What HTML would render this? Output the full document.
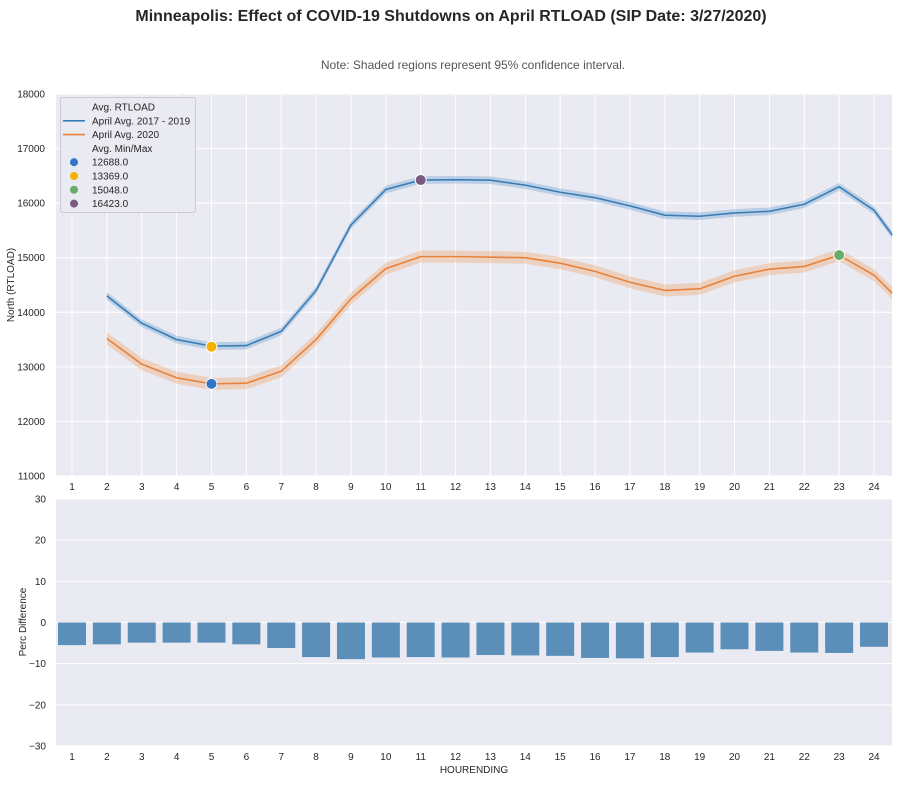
<!DOCTYPE html>
<html><head><meta charset="utf-8"><style>
body{margin:0;background:#fff;font-family:"Liberation Sans",sans-serif}
svg text{font-family:"Liberation Sans",sans-serif}
</style></head><body>
<svg id="s" width="902" height="782" xmlns="http://www.w3.org/2000/svg">
<text x="451" y="21" text-anchor="middle" font-size="16" font-weight="bold" fill="#262626">Minneapolis: Effect of COVID-19 Shutdowns on April RTLOAD (SIP Date: 3/27/2020)</text>
<text x="473" y="69" text-anchor="middle" font-size="12" fill="#555">Note: Shaded regions represent 95% confidence interval.</text>
<text transform="translate(14,285) rotate(-90)" text-anchor="middle" font-size="10" fill="#262626">North (RTLOAD)</text>
<text transform="translate(26,622) rotate(-90)" text-anchor="middle" font-size="10" fill="#262626">Perc Difference</text>
<text x="474" y="773" text-anchor="middle" font-size="10" fill="#262626">HOURENDING</text>
<g id="g"></g>
</svg>
<script>
var L=56,R=892,T1=94,B1=476,T2=499,B2=746;
function X(h){return 72+(h-1)*34.87}
function Y(v){return 476-(v-11000)*382/7000}
function Yb(v){return 622.5-v*247/60}
var o='';
o+='<rect x="'+L+'" y="'+T1+'" width="'+(R-L)+'" height="'+(B1-T1)+'" fill="#eaeaf2"/>';
o+='<rect x="'+L+'" y="'+T2+'" width="'+(R-L)+'" height="'+(B2-T2)+'" fill="#eaeaf2"/>';
for(var v=11000;v<=18000;v+=1000){o+='<line x1="'+L+'" x2="'+R+'" y1="'+Y(v)+'" y2="'+Y(v)+'" stroke="#fff"/>';o+='<text x="45" y="'+(Y(v)+3.5)+'" text-anchor="end" font-size="10" fill="#262626">'+v+'</text>';}
for(var h=1;h<=24;h++){o+='<line x1="'+X(h)+'" x2="'+X(h)+'" y1="'+T1+'" y2="'+B1+'" stroke="#fff"/>';o+='<text x="'+X(h)+'" y="490" text-anchor="middle" font-size="10" fill="#262626">'+h+'</text>';o+='<text x="'+X(h)+'" y="760" text-anchor="middle" font-size="10" fill="#262626">'+h+'</text>';}
for(var v=-30;v<=30;v+=10){o+='<line x1="'+L+'" x2="'+R+'" y1="'+Yb(v)+'" y2="'+Yb(v)+'" stroke="#fff"/>';o+='<text x="46" y="'+(Yb(v)+3.5)+'" text-anchor="end" font-size="10" fill="#262626">'+(v<0?'\u2212'+(-v):v)+'</text>';}
var blue=[[2,14300],[3,13800],[4,13500],[5,13380],[6,13390],[7,13650],[8,14400],[9,15600],[10,16250],[11,16423],[12,16430],[13,16420],[14,16330],[15,16200],[16,16100],[17,15950],[18,15780],[19,15760],[20,15820],[21,15850],[22,15980],[23,16300],[24,15870],[24.52,15420]];
var org=[[2,13520],[3,13050],[4,12800],[5,12688],[6,12700],[7,12920],[8,13500],[9,14250],[10,14800],[11,15020],[12,15020],[13,15010],[14,15000],[15,14900],[16,14750],[17,14550],[18,14400],[19,14430],[20,14660],[21,14790],[22,14840],[23,15048],[24,14680],[24.52,14350]];
function band(d,w,c){var a=d.map(p=>X(p[0])+','+Y(p[1]+w)).join(' ');var b=d.slice().reverse().map(p=>X(p[0])+','+Y(p[1]-w)).join(' ');return '<polygon points="'+a+' '+b+'" fill="'+c+'" opacity="0.3"/>';}
function line(d,c){return '<polyline points="'+d.map(p=>X(p[0])+','+Y(p[1])).join(' ')+'" fill="none" stroke="'+c+'" stroke-width="1.6"/>';}
o+=band(blue,70,'#4c8fc6')+band(org,110,'#f0944a')+line(blue,'#3a7db5')+line(org,'#e8823a');
[[5,12688,'#3274c8'],[5,13369,'#f5b000'],[23,15048,'#6aac6a'],[11,16423,'#7b5a80']].forEach(p=>{o+='<circle cx="'+X(p[0])+'" cy="'+Y(p[1])+'" r="5.5" fill="'+p[2]+'" stroke="#fff" stroke-width="1"/>';});
var bars=[-5.5,-5.3,-4.9,-4.9,-4.9,-5.3,-6.2,-8.4,-8.9,-8.5,-8.4,-8.5,-7.9,-8.0,-8.1,-8.6,-8.7,-8.4,-7.3,-6.5,-6.9,-7.3,-7.4,-5.9];
bars.forEach((b,i)=>{o+='<rect x="'+(X(i+1)-14)+'" y="'+Yb(0)+'" width="28" height="'+(Yb(b)-Yb(0))+'" fill="#5b8fb9"/>';});
o+='<rect x="60.5" y="97.5" width="135" height="115" fill="#eaeaf2" stroke="#ccc" rx="2"/>';
var lg=[['Avg. RTLOAD',null],['April Avg. 2017 - 2019','L#3a7db5'],['April Avg. 2020','L#e8823a'],['Avg. Min/Max',null],['12688.0','C#3274c8'],['13369.0','C#f5b000'],['15048.0','C#6aac6a'],['16423.0','C#7b5a80']];
lg.forEach((e,i)=>{var y=107+i*13.8;o+='<text x="92" y="'+(y+3.5)+'" font-size="10" fill="#262626">'+e[0]+'</text>';if(e[1]){if(e[1][0]=='L')o+='<line x1="63" x2="85" y1="'+y+'" y2="'+y+'" stroke="'+e[1].slice(1)+'" stroke-width="1.6"/>';else o+='<circle cx="74" cy="'+y+'" r="4" fill="'+e[1].slice(1)+'"/>';}});
document.getElementById('g').innerHTML=o;
</script>
</body></html>
